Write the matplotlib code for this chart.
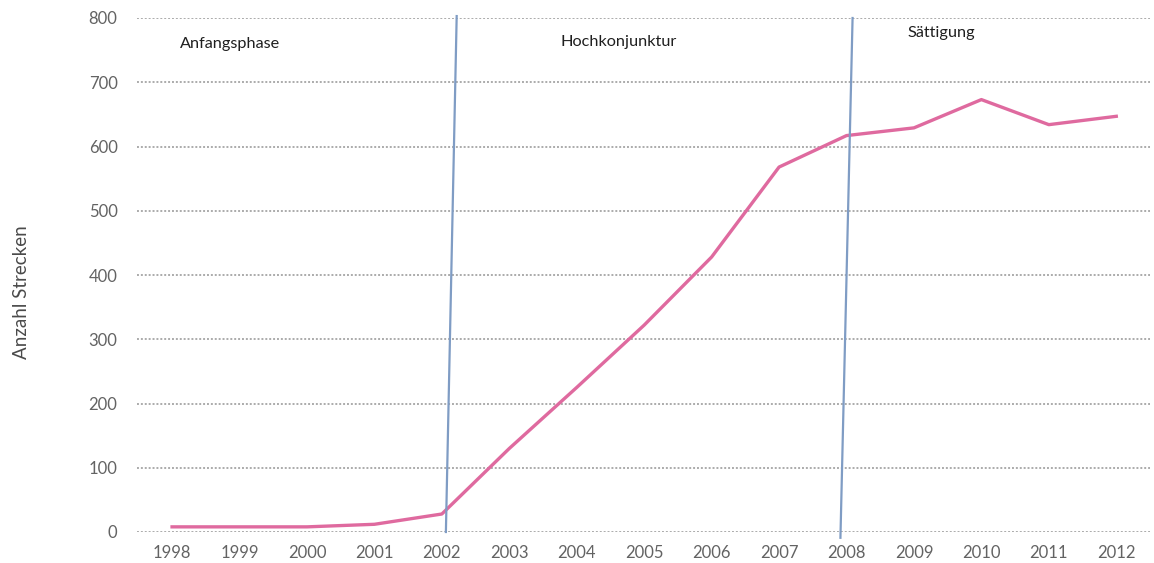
import matplotlib
matplotlib.use('Agg')
import matplotlib.pyplot as plt

plt.rcParams['font.family'] = ['Lato', 'DejaVu Sans']

# data
years = [1998, 1999, 2000, 2001, 2002, 2003, 2004, 2005, 2006, 2007, 2008, 2009, 2010, 2011, 2012]
strecken = [8, 8, 8, 12, 28, 130, 225, 322, 428, 568, 617, 629, 673, 634, 647]
y_ticks = [0, 100, 200, 300, 400, 500, 600, 700, 800]

# phase borders (slightly slanted, as hand drawn in the original)
border1_x = [2002.06, 2002.22]
border1_y = [0, 803]
border2_x = [2007.91, 2008.09]
border2_y = [-9, 800]

phases = ['Anfangsphase', 'Hochkonjunktur', 'Sättigung']
phase_x = [1998.12, 2003.76, 2008.9]
phase_y = [760, 763, 776]

fig = plt.figure(figsize=(11.54, 5.63), dpi=100)
ax = fig.add_axes([137 / 1154, 31 / 563, 1013 / 1154, 514 / 563])

ax.set_xlim(1997.48, 2012.5)
ax.set_ylim(0, 800)
ax.set_yticks(y_ticks)
ax.set_xticks(years)
ax.grid(axis='y', color='#ababab', linestyle=(0, (1.0, 1.0)), linewidth=1.4)
ax.set_axisbelow(True)
for s in ax.spines.values():
    s.set_visible(False)
ax.tick_params(length=0, labelsize=12, labelcolor='#636363')
ax.tick_params(axis='x', pad=9)
ax.tick_params(axis='y', pad=14)

ax.plot(years, strecken, color='#df6a9f', linewidth=2.4, zorder=3)
ax.plot(border1_x, border1_y, color='#7f9cc4', linewidth=1.6, clip_on=False, zorder=4)
ax.plot(border2_x, border2_y, color='#7f9cc4', linewidth=1.6, clip_on=False, zorder=4)

for t, x, y in zip(phases, phase_x, phase_y):
    ax.text(x, y, t, fontsize=11.7, color='#1f1f1f', va='center', ha='left')

fig.text(22 / 1154, 1 - 292 / 563, 'Anzahl Strecken', rotation=90, fontsize=13.5,
         color='#4a4a4a', va='center', ha='center')

fig.savefig('out.png', dpi=100)
